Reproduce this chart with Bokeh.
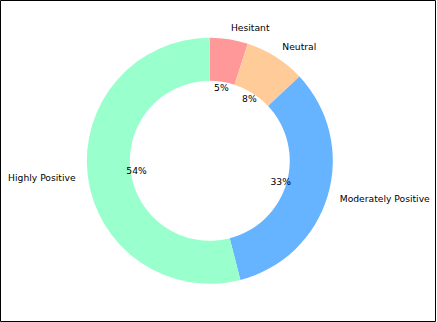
import numpy as np
from bokeh.plotting import figure
from bokeh.models import ColumnDataSource, Range1d
from bokeh.core.properties import value
from bokeh.embed import file_html
from bokeh.resources import INLINE

# Data
categories = ["Hesitant", "Neutral", "Moderately Positive", "Highly Positive"]
shares = [5, 8, 33, 54]
colors = ["#ff9999", "#ffcc99", "#66b3ff", "#99ffcc"]

vals = np.array(shares, dtype=float)
frac = vals / vals.sum()
cum = np.concatenate([[0.0], np.cumsum(frac)])
start = np.pi / 2 - cum[:-1] * 2 * np.pi
end = np.pi / 2 - cum[1:] * 2 * np.pi
mid = (start + end) / 2

lab_r = 1.1
pct_r = 0.6
src = ColumnDataSource(dict(
    start=start, end=end, color=colors,
    lx=lab_r * np.cos(mid), ly=lab_r * np.sin(mid),
    align=["left" if np.cos(m) > 0 else "right" for m in mid],
    label=categories,
    px=pct_r * np.cos(mid), py=pct_r * np.sin(mid),
    pct=[f"{v * 100:.0f}%" for v in frac],
))

W, H = 436, 322
cx, cy, R = 209.3, 160.3, 123.0
p = figure(width=W, height=H, output_backend="svg", toolbar_location=None,
           x_range=Range1d(-cx / R, (W - cx) / R),
           y_range=Range1d(-(H - cy) / R, cy / R),
           min_border=0)
p.axis.visible = False
p.grid.visible = False
p.outline_line_color = "black"
p.outline_line_width = 1
p.background_fill_color = "white"
p.border_fill_color = "white"

p.annular_wedge(x=0, y=0, inner_radius=0.65, outer_radius=1.0,
                start_angle="start", end_angle="end", direction="clock",
                fill_color="color", line_color=None, source=src)

p.text(x="lx", y="ly", text="label", text_align="align", text_baseline="middle",
       text_font=value("DejaVu Sans"), text_font_size="9.2px", text_color="black",
       source=src)
p.text(x="px", y="py", text="pct", text_align="center", text_baseline="middle",
       text_font=value("DejaVu Sans"), text_font_size="9.2px", text_color="black",
       source=src)

open("out.html", "w").write(file_html(p, INLINE))
